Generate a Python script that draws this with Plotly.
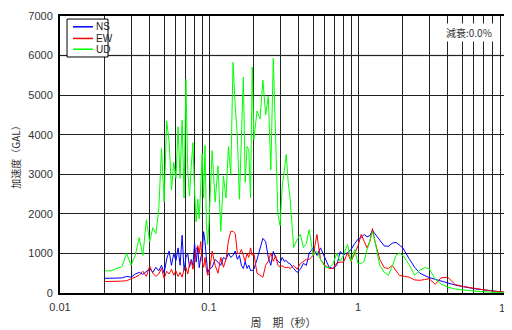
import plotly.graph_objects as go

periods = [0.02, 0.022, 0.024, 0.026, 0.028, 0.03, 0.032, 0.034, 0.036, 0.038,
           0.04, 0.042, 0.044, 0.046, 0.048, 0.05, 0.052, 0.054, 0.056, 0.058,
           0.06, 0.062, 0.064, 0.066, 0.068, 0.07, 0.072, 0.074, 0.076, 0.078,
           0.08, 0.082, 0.084, 0.086, 0.088, 0.09, 0.092, 0.094, 0.096, 0.098,
           0.1, 0.105, 0.11, 0.115, 0.12, 0.125, 0.13, 0.135, 0.14, 0.145,
           0.15, 0.155, 0.16, 0.165, 0.17, 0.175, 0.18, 0.185, 0.19, 0.195,
           0.2, 0.21, 0.22, 0.23, 0.24, 0.25, 0.26, 0.27, 0.28, 0.29,
           0.3, 0.31, 0.32, 0.33, 0.34, 0.35, 0.37, 0.39, 0.41, 0.43,
           0.45, 0.47, 0.5, 0.53, 0.56, 0.6, 0.64, 0.68, 0.72, 0.76,
           0.8, 0.85, 0.9, 0.95, 1.0, 1.05, 1.1, 1.15, 1.2, 1.25,
           1.3, 1.4, 1.5, 1.6, 1.7, 1.8, 1.9, 2.0, 2.2, 2.4,
           2.6, 2.8, 3.0, 3.3, 3.6, 4.0, 4.5, 5.0, 5.5, 6.0,
           7.0, 8.0, 9.0, 10.0]

ns = [370, 370, 370, 380, 420, 400, 480, 520, 470, 560,
      620, 520, 650, 560, 700, 500, 860, 1060, 700, 1000,
      820, 1140, 700, 1460, 570, 900, 1000, 650, 850, 700,
      1260, 780, 1150, 640, 900, 1000, 1550, 1300, 800, 500,
      600, 650, 850, 780, 700, 900, 850, 1000, 900, 950,
      1060, 850, 950, 700, 620, 800, 620, 700, 570, 570,
      600, 850, 1100, 1380, 1300, 900, 700, 1050, 900, 800,
      760, 900, 800, 820, 760, 740, 620, 520, 600, 750,
      700, 1000, 1140, 950, 1140, 900, 650, 620, 700, 1050,
      960, 1020, 1100, 1250, 1360, 1400, 1480, 1420, 1450, 1580,
      1500, 1330, 1190, 1180, 1260, 1280, 1200, 1140, 870, 650,
      500, 440, 390, 345, 300, 260, 200, 165, 130, 110,
      80, 50, 25, 10]

ew = [290, 290, 290, 300, 310, 350, 400, 450, 550, 420,
      680, 500, 420, 480, 620, 370, 550, 480, 600, 450,
      560, 420, 520, 400, 600, 650, 480, 720, 820, 600,
      900, 1100, 1200, 1000, 1300, 800, 650, 900, 600, 450,
      480, 1060, 700, 500, 900, 650, 850, 1310, 1560, 1560,
      1500, 1000, 990, 1100, 950, 800, 1000, 900, 1140, 950,
      1000, 500, 450, 400, 700, 800, 1010, 800, 950, 700,
      660, 690, 650, 640, 650, 620, 700, 600, 740, 800,
      850, 850, 950, 1480, 850, 700, 620, 620, 760, 780,
      780, 1010, 800, 1000, 1190, 1480, 1300, 1140, 1300, 1630,
      1300, 850, 640, 620, 700, 560, 440, 430, 400, 330,
      320, 340, 360, 220, 380, 400, 210, 170, 140, 110,
      80, 50, 30, 15]

ud = [560, 560, 620, 660, 1000, 700, 950, 1400, 950, 1850,
      1300, 1650, 1500, 2100, 3650, 2300, 4350, 3820, 2600, 3300,
      2900, 4200, 2900, 4370, 2400, 5400, 3100, 2450, 3200, 3800,
      2600, 1800, 2370, 1880, 2700, 3530, 2400, 3730, 1800, 1230,
      1800, 3600, 2300, 3210, 1560, 2960, 2400, 3700, 3000, 5830,
      4700, 3950, 2370, 3900, 5460, 2800, 3700, 3620, 2400, 5710,
      3870, 4600, 4400, 5380, 4500, 4970, 3110, 5930, 3880, 2000,
      1700, 2700, 3100, 3500, 2800, 2400, 1150, 1350, 1480, 1150,
      1250, 1600, 950, 1050, 850, 660, 640, 740, 1000, 800,
      950, 1230, 800, 1100, 740, 740, 800, 1100, 1300, 1550,
      1300, 700, 520, 450, 680, 950, 1010, 950, 720, 450,
      580, 640, 620, 350, 230, 150, 100, 75, 60, 50,
      30, 20, 10, 5]

series = [("NS", ns, "#0000ff"), ("EW", ew, "#ff0000"), ("UD", ud, "#00ff00")]

x_tickvals = [0.01, 0.02, 0.03, 0.04, 0.05, 0.06, 0.07, 0.08, 0.09,
              0.1, 0.2, 0.3, 0.4, 0.5, 0.6, 0.7, 0.8, 0.9,
              1, 2, 3, 4, 5, 6, 7, 8, 9, 10]
x_ticktext = ["0.01", "", "", "", "", "", "", "", "",
              "0.1", "", "", "", "", "", "", "", "",
              "1", "", "", "", "", "", "", "", "", ""]
y_tickvals = [0, 1000, 2000, 3000, 4000, 5000, 6000, 7000]

fig = go.Figure()
for name, vals, color in series:
    fig.add_trace(go.Scatter(x=periods, y=vals, mode="lines", name=name,
                             line=dict(color=color, width=1), showlegend=False))

# light grey 6000 grid line
fig.add_shape(type="line", xref="paper", yref="y", x0=0, x1=1, y0=6000, y1=6000,
              line=dict(color="#d0d0d0", width=2), layer="between")

# hand-drawn legend box (paper coordinates)
fig.add_shape(type="rect", xref="paper", yref="paper", x0=0.0157, x1=0.1074,
              y0=0.852, y1=0.989, line=dict(color="black", width=1),
              fillcolor="white", layer="above")
leg_y = [0.961, 0.919, 0.880]
for (name, vals, color), yy in zip(series, leg_y):
    fig.add_shape(type="line", xref="paper", yref="paper", x0=0.029, x1=0.0738,
                  y0=yy, y1=yy, line=dict(color=color, width=1.5), layer="above")
    fig.add_annotation(text=name, xref="paper", yref="paper", x=0.0765, y=yy,
                       xanchor="left", yanchor="middle", showarrow=False,
                       font=dict(size=10, color="#222",
                                 family="Liberation Sans Narrow, Liberation Sans"))

# last x tick label, kept inside the visible page
fig.add_annotation(text="10", xref="paper", yref="paper", x=1.0, y=-0.053,
                   xanchor="center", yanchor="middle", showarrow=False, xshift=-2,
                   font=dict(size=11, color="#333", family="Liberation Sans, Arial"))

fig.add_annotation(text="減衰:0.0%", xref="paper", yref="paper", x=0.971, y=0.940,
                   xanchor="right", yanchor="middle", showarrow=False,
                   bgcolor="white", borderpad=1,
                   font=dict(size=10, color="#333", family="Noto Sans CJK JP"))

fig.update_layout(
    width=512, height=322,
    margin=dict(l=52, r=13, t=2, b=37),
    paper_bgcolor="white", plot_bgcolor="white",
    font=dict(family="Liberation Sans, Arial", size=11, color="#333"),
    showlegend=False,
    xaxis=dict(type="log", range=[-2, 1], tickvals=x_tickvals, ticktext=x_ticktext,
               showgrid=True, gridcolor="#222", gridwidth=1,
               showline=True, linecolor="black", linewidth=2, mirror=True,
               ticks="", zeroline=False, ticklabelstandoff=3,
               ticklabeloverflow="allow",
               title=dict(text="周　期（秒）", standoff=7,
                          font=dict(size=11, family="Noto Sans CJK JP", color="#333"))),
    yaxis=dict(range=[0, 7000], tickvals=y_tickvals,
               showgrid=True, gridcolor="#222", gridwidth=1,
               showline=True, linecolor="black", linewidth=2, mirror=True,
               ticks="", zeroline=False, ticklabelstandoff=3,
               ticklabeloverflow="allow",
               title=dict(text="加速度（GAL）", standoff=10,
                          font=dict(size=10, family="Noto Sans CJK JP", color="#333"))),
)

fig.write_html("out.html")
